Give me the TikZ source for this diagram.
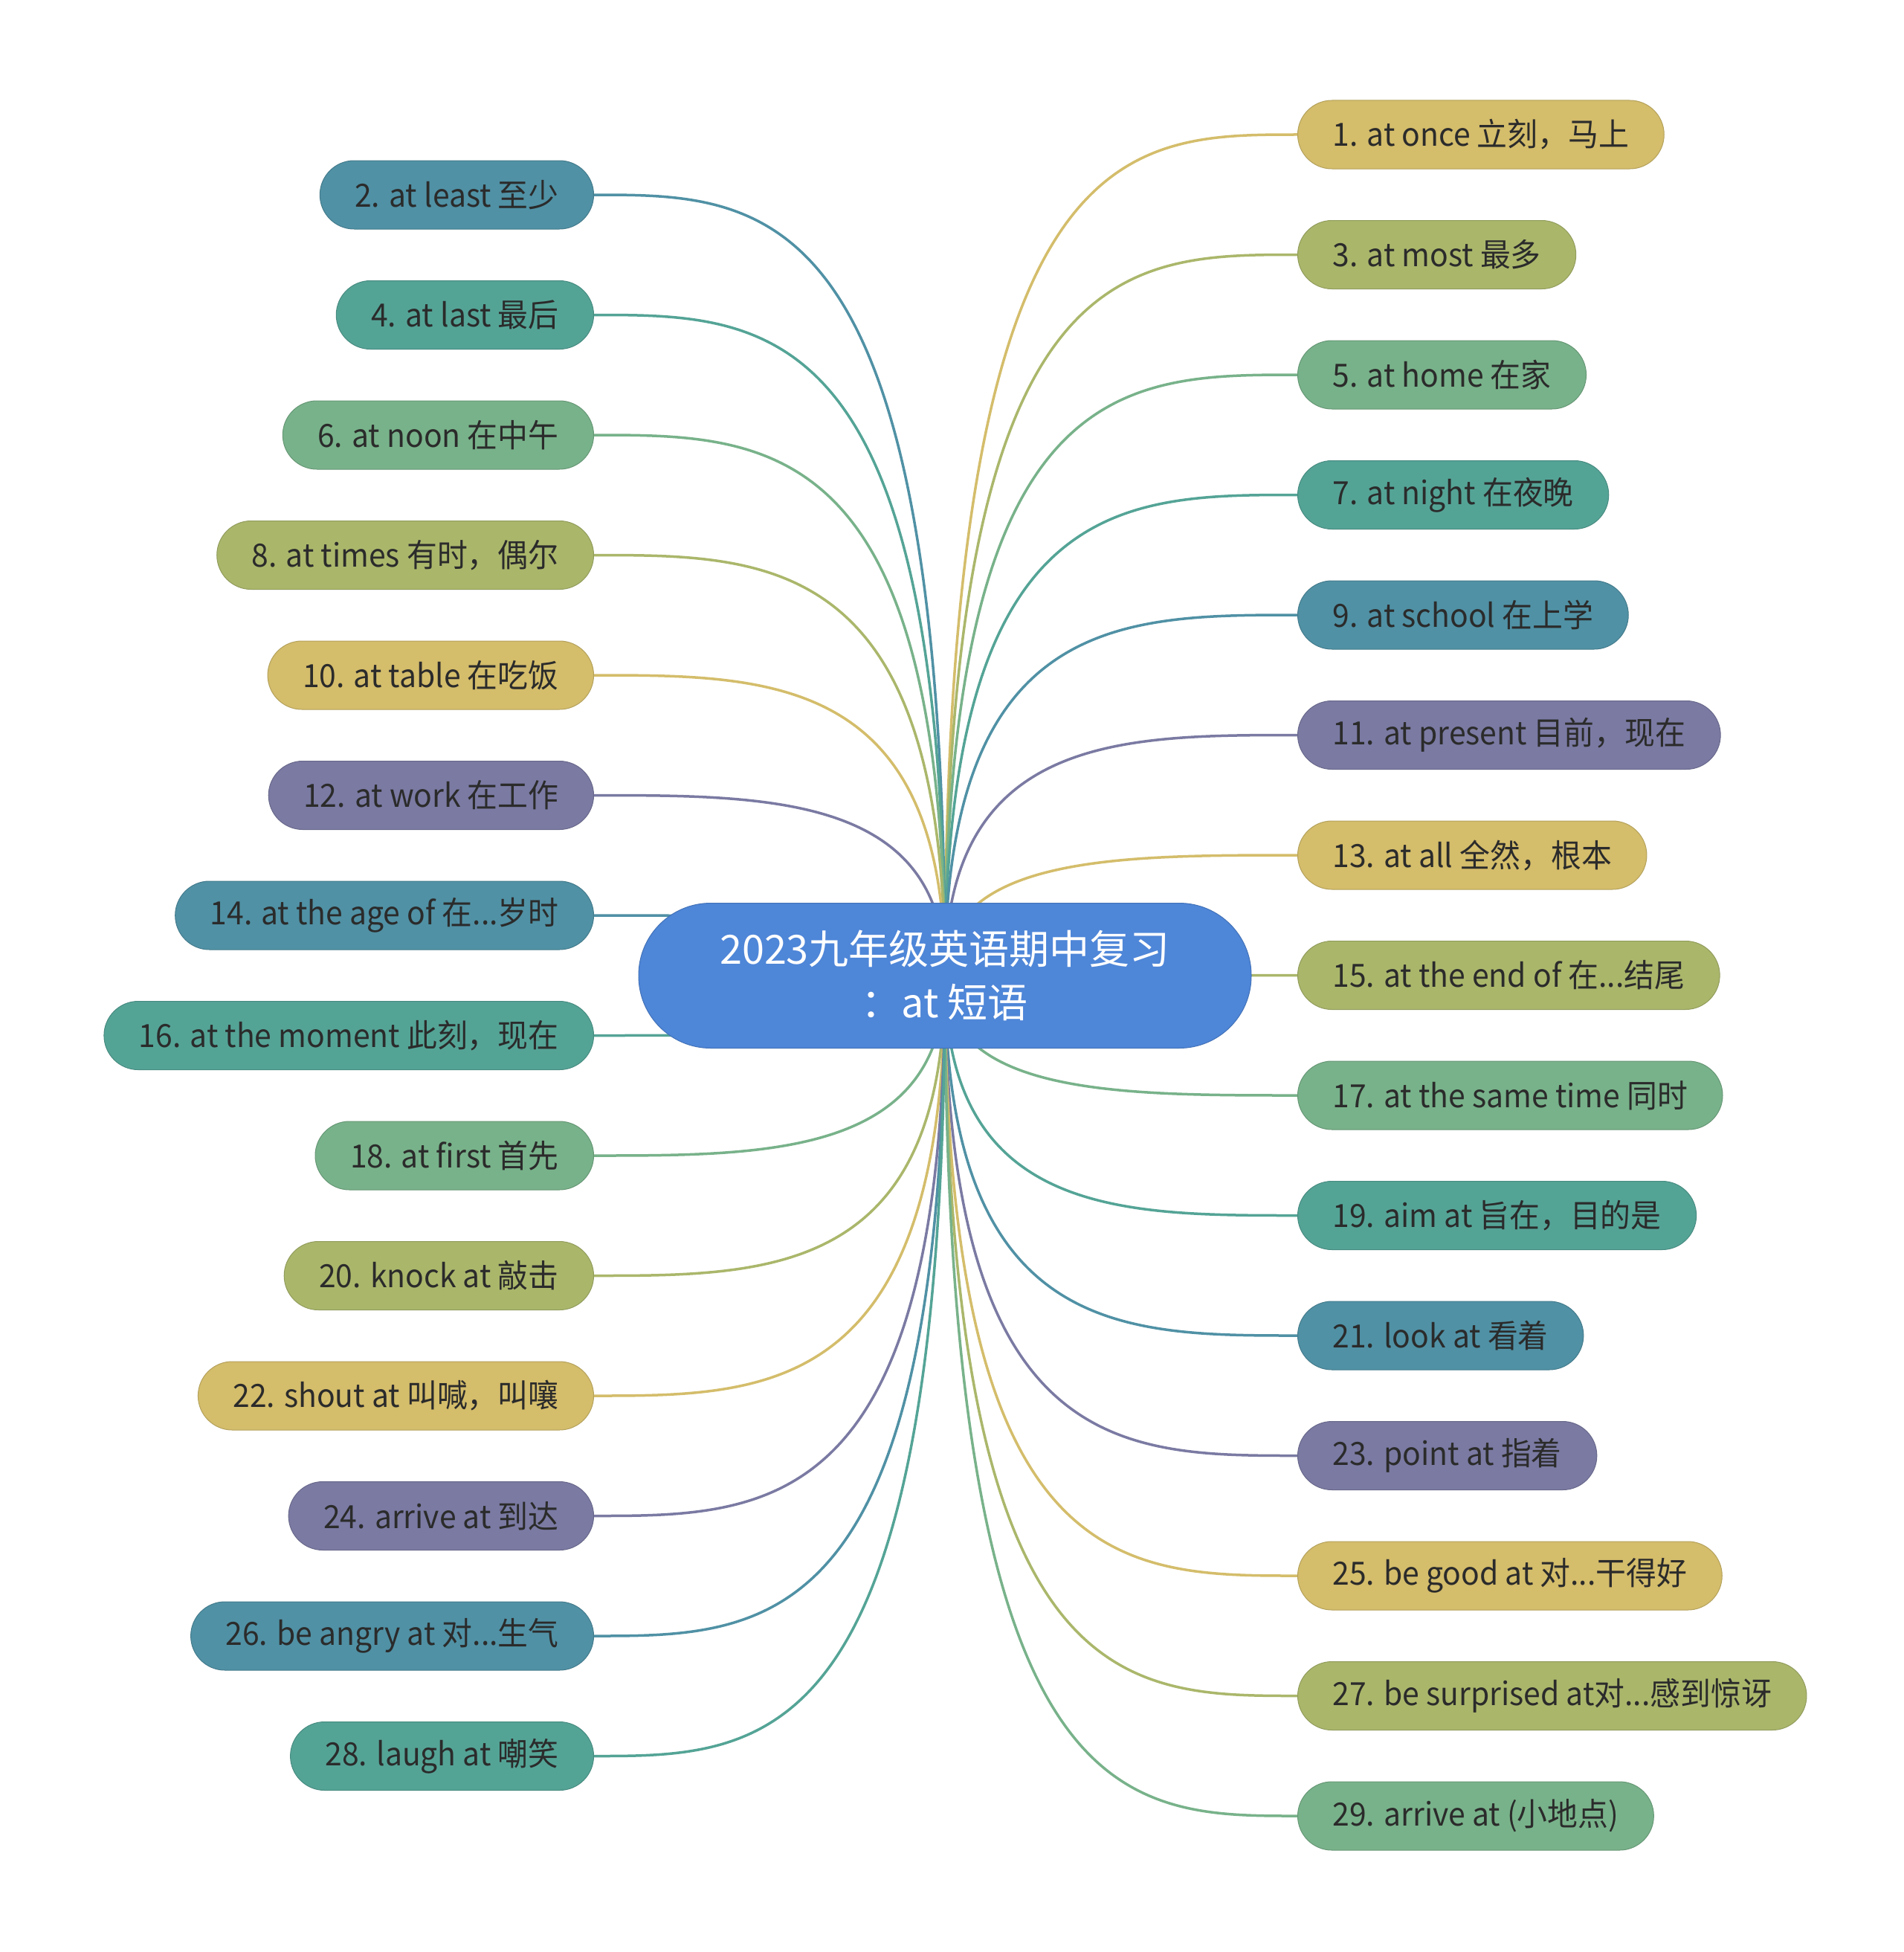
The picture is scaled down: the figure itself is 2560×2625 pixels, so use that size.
\documentclass[tikz,border=0pt]{standalone}
\usepackage{fontspec}
\setmainfont{Noto Sans CJK SC}
\newfontfamily\leaffont[FakeStretch=0.95]{Noto Sans CJK SC}
\usetikzlibrary{calc,backgrounds}
\definecolor{cY}{HTML}{D4BD6B}
\definecolor{cO}{HTML}{AAB76B}
\definecolor{cG}{HTML}{78B28A}
\definecolor{cT}{HTML}{54A496}
\definecolor{cB}{HTML}{5091A5}
\definecolor{cP}{HTML}{7A7AA3}
\definecolor{cC}{HTML}{4E86D8}
\definecolor{txt}{HTML}{2B2B2B}
\tikzset{
  leaf/.style={rounded corners=46pt, minimum height=92pt, inner xsep=47pt, inner ysep=0pt,
    text=txt, font=\leaffont\fontsize{43}{52}\selectfont, draw=#1!85!black, fill=#1, line width=1pt},
  link/.style={draw=#1, line width=3.5pt},
  root/.style={rounded corners=97pt, minimum width=824pt, minimum height=195pt, inner sep=0pt,
    fill=cC, draw=cC!85!black, line width=1pt, text=white, align=center,
    font=\fontsize{54}{72}\selectfont}
}
\begin{document}
\begin{tikzpicture}[x=1pt,y=-1pt]
\useasboundingbox (0,0) rectangle (2560,2625);
\node[root] (c) at (1271,1312) {2023九年级英语期中复习\\：at 短语};
\foreach \n/\y/\col/\t in {
  1/181/cY/{1. at once 立刻，马上},
  3/342.5/cO/{3. at most 最多},
  5/504/cG/{5. at home 在家},
  7/665.5/cT/{7. at night 在夜晚},
  9/827/cB/{9. at school 在上学},
  11/988.5/cP/{11. at present 目前，现在},
  13/1150/cY/{13. at all 全然，根本},
  15/1311.5/cO/{15. at the end of 在...结尾},
  17/1473/cG/{17. at the same time 同时},
  19/1634.5/cT/{19. aim at 旨在，目的是},
  21/1796/cB/{21. look at 看着},
  23/1957.5/cP/{23. point at 指着},
  25/2119/cY/{25. be good at 对...干得好},
  27/2280.5/cO/{27. be surprised at对...感到惊讶},
  29/2442/cG/{29. arrive at (小地点)}}
  {\node[leaf=\col, anchor=west] (n\n) at (1745,\y) {\t};}
\foreach \n/\y/\col/\t in {
  2/262/cB/{2. at least 至少},
  4/423.5/cT/{4. at last 最后},
  6/585/cG/{6. at noon 在中午},
  8/746.5/cO/{8. at times 有时，偶尔},
  10/908/cY/{10. at table 在吃饭},
  12/1069.5/cP/{12. at work 在工作},
  14/1231/cB/{14. at the age of 在...岁时},
  16/1392.5/cT/{16. at the moment 此刻，现在},
  18/1554/cG/{18. at first 首先},
  20/1715.5/cO/{20. knock at 敲击},
  22/1877/cY/{22. shout at 叫喊，叫嚷},
  24/2038.5/cP/{24. arrive at 到达},
  26/2200/cB/{26. be angry at 对...生气},
  28/2361.5/cT/{28. laugh at 嘲笑}}
  {\node[leaf=\col, anchor=east] (n\n) at (799,\y) {\t};}
\begin{scope}[on background layer]
  \fill[white] (0,0) rectangle (2560,2625);
  \foreach \n/\col in {1/cY,3/cO,5/cG,7/cT,9/cB,11/cP,13/cY,15/cO,17/cG,19/cT,21/cB,23/cP,25/cY,27/cO,29/cG}
    {\draw[link=\col] (c.center) .. controls (c.center |- n\n.west) and ($(c.center |- n\n.west)!0.5!(n\n.west)$) .. (n\n.west);}
  \foreach \n/\col in {2/cB,4/cT,6/cG,8/cO,10/cY,12/cP,14/cB,16/cT,18/cG,20/cO,22/cY,24/cP,26/cB,28/cT}
    {\draw[link=\col] (c.center) .. controls (c.center |- n\n.east) and ($(c.center |- n\n.east)!0.5!(n\n.east)$) .. (n\n.east);}
\end{scope}
\end{tikzpicture}
\end{document}
